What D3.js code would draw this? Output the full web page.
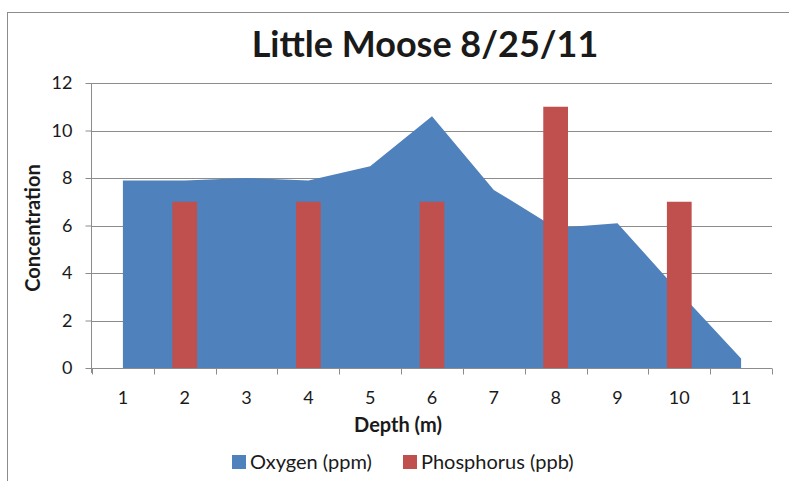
<!DOCTYPE html>
<html>
<head>
<meta charset="utf-8">
<script src="https://cdn.jsdelivr.net/npm/d3@7"></script>
<style>
  body { margin: 0; background: #fff; }
  text { font-family: Lato, "Open Sans", sans-serif; fill: #1a1a1a; }
</style>
</head>
<body>
<div id="chart"></div>
<script>

// data
var depths = ["1", "2", "3", "4", "5", "6", "7", "8", "9", "10", "11"];
var oxygen = [7.9, 7.9, 8.0, 7.9, 8.5, 10.6, 7.5, 5.9, 6.1, 3.2, 0.4];
var phosphorus = [null, 7, null, 7, null, 7, null, 11, null, 7, null];
var yTicks = [0, 2, 4, 6, 8, 10, 12];
var seriesNames = ["Oxygen (ppm)", "Phosphorus (ppb)"];
var seriesColors = ["#4f81bd", "#c0504d"];

var width = 789, height = 481;
var margin = { top: 83, right: 17, bottom: 113, left: 92 };

var svg = d3.select("#chart").append("svg")
    .attr("width", width)
    .attr("height", height);

// outer chart border (only top and left show in the crop)
svg.append("rect")
    .attr("x", 7.5).attr("y", 12.5)
    .attr("width", 820).attr("height", 520)
    .attr("fill", "none")
    .attr("stroke", "#8c8c8c");

var x = d3.scaleBand()
    .domain(depths)
    .range([margin.left, width - margin.right]);

var y = d3.scaleLinear()
    .domain([0, 12])
    .range([height - margin.bottom, margin.top]);

var xMid = function(d){ return x(d) + x.bandwidth() / 2; };

// gridlines
svg.append("g")
    .selectAll("line")
    .data(yTicks.filter(function(t){ return t > 0; }))
    .enter().append("line")
    .attr("x1", margin.left).attr("x2", width - margin.right)
    .attr("y1", function(d){ return Math.round(y(d)) + 0.5; })
    .attr("y2", function(d){ return Math.round(y(d)) + 0.5; })
    .attr("stroke", "#8c8c8c");

// oxygen area
var area = d3.area()
    .x(function(d, i){ return xMid(depths[i]); })
    .y0(y(0))
    .y1(function(d){ return y(d); });

svg.append("path")
    .datum(oxygen)
    .attr("d", area)
    .attr("fill", seriesColors[0]);

// phosphorus bars
var barW = x.bandwidth() / 2.5;
svg.append("g")
    .selectAll("rect")
    .data(phosphorus.map(function(v, i){ return { depth: depths[i], value: v }; })
        .filter(function(d){ return d.value !== null; }))
    .enter().append("rect")
    .attr("x", function(d){ return xMid(d.depth) - barW / 2; })
    .attr("width", barW)
    .attr("y", function(d){ return y(d.value); })
    .attr("height", function(d){ return y(0) - y(d.value); })
    .attr("fill", seriesColors[1]);

// y axis
var yAxis = svg.append("g")
    .attr("transform", "translate(" + (margin.left - 0.5) + ",0)")
    .call(d3.axisLeft(y).tickValues(yTicks).tickSize(6).tickPadding(13));
yAxis.select(".domain").attr("stroke", "#8c8c8c").attr("d", "M0," + y(12) + "V" + (y(0) + 5));
yAxis.selectAll(".tick line").attr("stroke", "#8c8c8c");
yAxis.selectAll("text").style("font-size", "18px").attr("fill", "#1a1a1a");

// x axis: ticks sit between categories
var xAxisG = svg.append("g")
    .attr("transform", "translate(0," + (Math.round(y(0)) + 0.5) + ")");
xAxisG.append("line")
    .attr("x1", margin.left).attr("x2", width - margin.right)
    .attr("stroke", "#8c8c8c");
xAxisG.selectAll(".xtick")
    .data(depths.concat(["end"]))
    .enter().append("line")
    .attr("class", "xtick")
    .attr("x1", function(d, i){ return Math.round(margin.left + i * x.bandwidth()) + 0.5; })
    .attr("x2", function(d, i){ return Math.round(margin.left + i * x.bandwidth()) + 0.5; })
    .attr("y1", 0).attr("y2", 6)
    .attr("stroke", "#8c8c8c");
xAxisG.selectAll(".xlabel")
    .data(depths)
    .enter().append("text")
    .attr("class", "xlabel")
    .attr("x", xMid)
    .attr("y", 35)
    .attr("text-anchor", "middle")
    .style("font-size", "18px")
    .text(function(d){ return d; });

// titles
svg.append("text")
    .attr("x", 425).attr("y", 57)
    .attr("text-anchor", "middle")
    .style("font-size", "36px").style("font-weight", "bold")
    .attr("fill", "#000")
    .text("Little Moose 8/25/11");

svg.append("text")
    .attr("x", 398).attr("y", 432)
    .attr("text-anchor", "middle")
    .style("font-size", "20px").style("font-weight", "bold")
    .text("Depth (m)");

svg.append("text")
    .attr("transform", "translate(40,228) rotate(-90)")
    .attr("text-anchor", "middle")
    .style("font-size", "20px").style("font-weight", "bold")
    .text("Concentration");

// legend
var legendX = [232, 403];
var legend = svg.append("g");
var items = legend.selectAll("g")
    .data(seriesNames)
    .enter().append("g")
    .attr("transform", function(d, i){ return "translate(" + legendX[i] + ",455)"; });
items.append("rect")
    .attr("width", 14).attr("height", 14)
    .attr("fill", function(d, i){ return seriesColors[i]; });
items.append("text")
    .attr("x", 18).attr("y", 14)
    .style("font-size", "20px")
    .text(function(d){ return d; });

</script>
</body>
</html>
